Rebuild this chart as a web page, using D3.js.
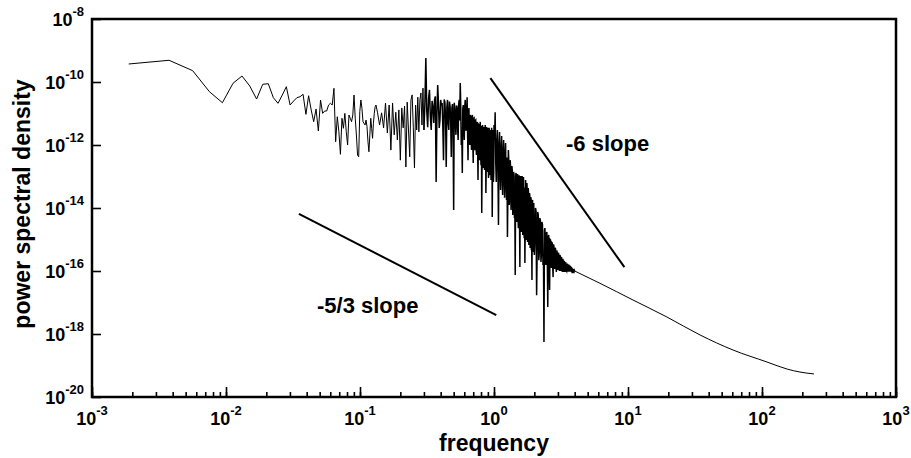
<!DOCTYPE html>
<html>
<head>
<meta charset="utf-8">
<script src="https://cdn.jsdelivr.net/npm/d3@7"></script>
<style>
body { margin: 0; background: #fff; }
text { font-family: "Liberation Sans", Arial, Helvetica, sans-serif; font-weight: bold; fill: #000; }
</style>
</head>
<body>
<div id="chart"></div>
<script>
// spectrum, low frequency part (one point per frequency bin)
var freqLow = [0.00188,0.00376,0.00564,0.00752,0.0094,0.01128,0.01316,0.01504,0.01692,0.0188,
  0.02068,0.02256,0.02444,0.02632,0.0282,0.03008,0.03196,0.03384,0.03572,0.0376,
  0.03948,0.04136,0.04324,0.04512,0.047,0.04888,0.05076,0.05264,0.05452,0.0564,
  0.05828,0.06016,0.06204,0.06392,0.0658,0.06768,0.06956,0.07144,0.07332,0.0752,
  0.07708,0.07896,0.08084,0.08272,0.0846,0.08648,0.08836,0.09024,0.09212,0.094,
  0.09588,0.09776,0.09964,0.10152,0.1034,0.10528,0.10716,0.10904,0.11092,0.1128,
  0.11468,0.11656,0.11844,0.12032,0.1222,0.12408,0.12596,0.12784,0.12972,0.1316]
var psdLow = [3.73e-10,4.89e-10,2.29e-10,4.92e-11,2.2e-11,9.1e-11,1.55e-10,7.46e-11,2.88e-11,8.45e-11,
  8.83e-11,3.18e-11,2.11e-11,3.87e-11,7.1e-11,1.86e-11,2.49e-11,3.18e-11,3.41e-11,4.07e-11,
  9.4e-12,3.67e-11,1.29e-11,5.5e-12,1.39e-11,2.78e-12,2.68e-11,1.01e-11,1.2e-11,1.2e-11,
  1.86e-11,2.11e-11,1.86e-11,6.3e-11,1.27e-12,7.9e-12,2.64e-12,5.07e-13,7.05e-12,3.39e-12,
  1.01e-11,2.64e-12,1e-12,8.95e-12,7.05e-12,5.5e-12,8.95e-12,3.87e-11,7.05e-12,2.08e-12,
  4.8e-13,4.25e-13,1.14e-11,2.68e-11,1.46e-11,5.5e-12,4.89e-12,4.32e-12,6.2e-12,3.81e-12,
  1.27e-12,6.1e-13,2.08e-12,7.05e-12,3.39e-12,1.63e-12,4.89e-12,1.01e-11,1.64e-11,1.86e-11]

// noisy band 0.135 - 4 (peaks and troughs)
var freqBand = [0.135,0.14,0.145,0.15,0.155,0.16,0.165,0.17,0.175,0.18,
  0.185,0.19,0.195,0.2,0.205,0.21,0.215,0.22,0.225,0.23,
  0.235,0.24,0.245,0.25,0.255,0.26,0.265,0.27,0.275,0.28,
  0.285,0.29,0.295,0.3,
  0.31,0.32,0.33,0.34,0.35,0.36,0.37,0.38,0.39,0.40,
  0.41,0.42,0.43,0.44,0.45,0.46,0.47,0.48,0.49,0.50,
  0.51,0.52,0.53,0.54,0.55,0.56,0.57,0.58,0.59,0.60,
  0.61,0.62,0.63,0.64,0.65,0.66,0.67,0.68,0.69,0.70,
  0.71,0.72,0.73,0.74,0.75,0.76,0.77,0.78,0.79,0.80,
  0.81,0.82,0.83,0.84,0.85,0.86,0.87,0.88,0.89,0.90,
  0.91,0.92,0.93,0.94,0.95,0.96,0.97,0.98,0.99,1.00,
  1.02,1.04,1.06,1.08,1.10,1.12,1.14,1.16,1.18,1.20,
  1.22,1.24,1.26,1.28,1.30,1.32,1.34,1.36,1.38,1.40,
  1.42,1.44,1.46,1.48,1.50,1.52,1.54,1.56,1.58,1.60,
  1.62,1.64,1.66,1.68,1.70,1.72,1.74,1.76,1.78,1.80,
  1.82,1.84,1.86,1.88,1.90,1.92,1.94,1.96,1.98,2.00,
  2.04,2.08,2.12,2.16,2.20,2.24,2.28,2.32,2.36,2.40,
  2.44,2.48,2.52,2.56,2.60,2.64,2.68,2.72,2.76,2.80,
  2.84,2.88,2.92,2.96,3.00,3.04,3.08,3.12,3.16,3.20,
  3.24,3.28,3.32,3.36,3.40,3.44,3.48,3.52,3.56,3.60,
  3.64,3.68,3.72,3.76,3.80,3.84,3.88,3.92,3.96,4.00]
var psdBand = [1.1e-11,4.3e-12,1.05e-11,3.5e-12,2.15e-11,2.4e-12,1.86e-11,6.9e-13,2.15e-11,2.1e-12,
  1.1e-11,1.44e-12,1.3e-11,3.3e-13,1.5e-11,3.5e-12,1.73e-11,2.0e-13,2.3e-11,3.0e-12,
  4.2e-13,2.7e-11,3.9e-11,3.5e-12,1.86e-13,1.86e-11,3.0e-12,3.3e-11,2.6e-12,2.7e-11,
  4.5e-11,4.3e-12,6.4e-11,3.0e-12,
  5.8e-10,3.7e-12,5.6e-11,3.0e-12,1.6e-11,2.7e-11,6.7e-14,8.0e-11,3.5e-12,2.7e-11,
  2.15e-11,3.3e-13,2.3e-11,2.0e-13,2.7e-11,3.0e-12,1.73e-11,4.2e-13,2.0e-11,8.6e-15,
  1.5e-11,2.1e-12,1.6e-11,1.44e-12,2.7e-11,9.3e-11,1e-12,1.3e-13,1.86e-11,1.44e-12,
  2.7e-11,3.0e-12,3.3e-11,3.3e-13,1.5e-11,1e-12,7.7e-12,6.9e-13,9e-12,2.7e-13,
  7.2e-12,6.9e-13,6.2e-12,4.8e-13,5.4e-12,7.7e-14,4.3e-12,3.3e-13,5.4e-12,2.3e-13,
  6.9e-15,4.3e-12,1.86e-13,3.7e-12,1.6e-13,4.3e-12,3.0e-14,3.7e-12,1.4e-13,3.5e-12,
  9e-14,3.5e-12,1.1e-13,3.0e-12,7.7e-14,3.5e-12,5.2e-15,3.0e-12,6.7e-14,4.3e-12,
  1.1e-11,6.7e-14,3.0e-12,2.9e-15,2.6e-12,3.7e-14,1.93e-12,2.6e-14,1.44e-12,2.1e-14,
  1.16e-12,1.8e-14,1.2e-15,6.9e-13,1.25e-14,3.3e-13,8.6e-15,2.15e-13,6.0e-15,1.4e-13,
  4.8e-15,7.5e-17,1.3e-13,3.6e-15,1.2e-13,2.3e-15,1.1e-13,1.34e-16,1.04e-13,1.73e-15,
  1.04e-13,1.4e-15,9.6e-14,1.1e-15,1.8e-16,7.7e-14,9.6e-16,6.2e-14,8.3e-16,4.3e-14,
  6.7e-16,3.0e-14,5.4e-16,2.2e-14,4.6e-16,5.2e-17,1.8e-14,4.0e-16,1.44e-14,3.2e-16,
  1e-14,1.7e-17,7.5e-15,2.2e-16,4.8e-15,1.93e-16,3.6e-15,1.55e-16,5.6e-19,2.3e-15,
  1.55e-16,1.73e-15,7.2e-18,1.4e-15,2.5e-17,9.6e-16,1.25e-16,7.7e-16,6.4e-17,6.2e-16,
  1.16e-16,5.0e-16,9.3e-17,4.0e-16,1.08e-16,3.5e-16,1.0e-16,3.0e-16,1.0e-16,2.6e-16,
  9.3e-17,2.2e-16,9.3e-17,1.93e-16,9.3e-17,1.8e-16,1.0e-16,1.55e-16,9.6e-17,1.44e-16,
  9.6e-17,1.34e-16,9.6e-17,1.25e-16,9.6e-17,1.16e-16,9.6e-17,1.08e-16,9.6e-17,1.0e-16]

// in-between bins of the dense band (body of the noise)
var freqFill = [0.305,0.315,0.325,0.335,0.345,0.355,0.365,0.375,0.385,0.395,
  0.405,0.415,0.425,0.435,0.445,0.455,0.465,0.475,0.485,0.495,
  0.505,0.515,0.525,0.535,0.545,0.555,0.565,0.575,0.585,0.595,
  0.605,0.615,0.625,0.635,0.645,0.655,0.665,0.675,0.685,0.695,
  0.705,0.715,0.725,0.735,0.745,0.755,0.765,0.775,0.785,0.795,
  0.805,0.815,0.825,0.835,0.845,0.855,0.865,0.875,0.885,0.895,
  0.905,0.915,0.925,0.935,0.945,0.955,0.965,0.975,0.985,0.995,
  1.01,1.03,1.05,1.07,1.09,1.11,1.13,1.15,1.17,1.19,
  1.21,1.23,1.25,1.27,1.29,1.31,1.33,1.35,1.37,1.39,
  1.41,1.43,1.45,1.47,1.49,1.51,1.53,1.55,1.57,1.59,
  1.61,1.63,1.65,1.67,1.69,1.71,1.73,1.75,1.77,1.79,
  1.81,1.83,1.85,1.87,1.89,1.91,1.93,1.95,1.97,1.99,
  2.02,2.06,2.10,2.14,2.18,2.22,2.26,2.30,2.34,2.38,
  2.42,2.46,2.50,2.54,2.58,2.62,2.66,2.70,2.74,2.78,
  2.82,2.86,2.90,2.94,2.98,3.02,3.06,3.10,3.14,3.18,
  3.22,3.26,3.30,3.34,3.38,3.42,3.46,3.50,3.54,3.58,
  3.62,3.66,3.70,3.74,3.78,3.82,3.86,3.90,3.94,3.98]
var psdFill = [2.0e-11,1.2e-11,3.0e-11,8e-12,2.5e-11,5e-12,3.5e-11,9e-12,2.2e-11,6e-12,
  1.8e-11,4e-12,2.8e-11,7e-12,1.6e-11,5e-12,2.4e-11,6e-12,1.5e-11,4e-12,
  2.2e-11,5e-12,1.8e-11,3.5e-12,2.0e-11,6e-12,1.5e-11,3e-12,1.4e-11,4e-12,
  1.6e-11,3e-12,1.2e-11,2.5e-12,1.0e-11,2e-12,9e-12,1.5e-12,8e-12,1.2e-12,
  7e-12,1e-12,6e-12,8e-13,5e-12,7e-13,4.5e-12,6e-13,4e-12,5e-13,
  4e-12,4e-13,3.5e-12,3.5e-13,3.2e-12,3e-13,3e-12,2.5e-13,2.8e-12,2.2e-13,
  2.6e-12,2e-13,2.5e-12,1.8e-13,2.4e-12,1.6e-13,2.2e-12,1.5e-13,2e-12,1.3e-13,
  1.5e-12,3e-13,1.2e-12,2e-13,1e-12,1.5e-13,8e-13,1e-13,6e-13,8e-14,
  5e-13,6e-14,4e-13,4e-14,3e-13,3e-14,2e-13,2e-14,1.5e-13,1.5e-14,
  1.2e-13,1.2e-14,1e-13,8e-15,9e-14,6e-15,8e-14,5e-15,7e-14,4e-15,
  6e-14,3.5e-15,5e-14,3e-15,4.5e-14,2.5e-15,4e-14,2e-15,3.5e-14,1.7e-15,
  3e-14,1.5e-15,2.5e-14,1.2e-15,2e-14,1e-15,1.6e-14,9e-16,1.3e-14,8e-16,
  1e-15,8e-15,5e-16,6e-15,4e-16,4e-15,3.5e-16,3e-15,3e-16,2e-15,
  2.6e-16,1.6e-15,2.3e-16,1.2e-15,2e-16,1e-15,1.8e-16,8e-16,1.6e-16,7e-16,
  1.5e-16,5.5e-16,1.4e-16,4.5e-16,1.3e-16,3.8e-16,1.25e-16,3.2e-16,1.2e-16,2.8e-16,
  1.15e-16,2.4e-16,1.1e-16,2.1e-16,1.08e-16,1.9e-16,1.05e-16,1.7e-16,1.03e-16,1.5e-16,
  1.02e-16,1.4e-16,1.01e-16,1.3e-16,1e-16,1.2e-16,1e-16,1.1e-16,1e-16,1.05e-16]

// smooth high frequency tail
var freqTail = [4.0, 6.18, 10.9, 19.5, 34.5, 60.8, 109, 154, 192, 244]
var psdTail = [1.0e-16, 4.07e-17, 1.2e-17, 3.47e-18, 9.3e-19, 3.1e-19, 1.29e-19, 7.7e-20, 6.2e-20, 5.4e-20]

// reference slopes
var sixSlopeF = [0.94, 9.4]
var sixSlopeP = [1.32e-10, 1.32e-16]
var fiveThirdF = [0.035, 1.04]
var fiveThirdP = [6.5e-15, 4.0e-18]

var xMajor = [1e-3, 1e-2, 1e-1, 1e0, 1e1, 1e2, 1e3]
var yMajor = [1e-20, 1e-18, 1e-16, 1e-14, 1e-12, 1e-10, 1e-8]

var width = 911,
    height = 458
var margin = {left: 92, top: 19, right: 15, bottom: 61}
var x0 = margin.left, x1 = width - margin.right
var y0 = height - margin.bottom, y1 = margin.top

var svg = d3.select("#chart").append("svg")
    .attr("width", width)
    .attr("height", height)

var x = d3.scaleLog().domain([1e-3, 1e3]).range([x0, x1])
var y = d3.scaleLog().domain([1e-20, 1e-8]).range([y0, y1])

function pairs(fs, ps) { return fs.map(function(f, i) { return [f, ps[i]] }) }

// all bins sorted by frequency
var noisy = pairs(freqLow, psdLow)
    .concat(pairs(freqBand, psdBand), pairs(freqFill, psdFill))
noisy = d3.sort(noisy, function(d) { return d[0] })
var sparse = noisy.filter(function(d) { return d[0] <= 0.3 })   // thin, readable zigzag
var dense = noisy.filter(function(d) { return d[0] >= 0.3 })    // packed band, drawn heavier
var tail = pairs(freqTail, psdTail)

var line = d3.line()
    .x(function(d) { return x(d[0]) })
    .y(function(d) { return y(d[1]) })
var smooth = d3.line()
    .x(function(d) { return x(d[0]) })
    .y(function(d) { return y(d[1]) })
    .curve(d3.curveMonotoneX)

svg.append("path")
    .attr("d", line(sparse))
    .attr("fill", "none")
    .attr("stroke", "#000")
    .attr("stroke-width", 1)
svg.append("path")
    .attr("d", line(dense))
    .attr("fill", "none")
    .attr("stroke", "#000")
    .attr("stroke-width", 1.5)
svg.append("path")
    .attr("d", smooth(tail))
    .attr("fill", "none")
    .attr("stroke", "#000")
    .attr("stroke-width", 1)

// slope guides
function slopeLine(fs, ps) {
  svg.append("path")
      .attr("d", line(pairs(fs, ps)))
      .attr("fill", "none")
      .attr("stroke", "#000")
      .attr("stroke-width", 2)
}
slopeLine(sixSlopeF, sixSlopeP)
slopeLine(fiveThirdF, fiveThirdP)

svg.append("text").attr("x", 566).attr("y", 151)
    .style("font-size", "22px").text("-6 slope")
svg.append("text").attr("x", 317).attr("y", 313)
    .style("font-size", "22px").text("-5/3 slope")

// axes (ticks pointing inward)
svg.append("g").attr("transform", "translate(0," + y0 + ")")
    .call(d3.axisBottom(x).tickValues(x.ticks()).tickSizeInner(-5).tickSizeOuter(0).tickFormat(""))
svg.append("g").attr("transform", "translate(0," + y0 + ")")
    .call(d3.axisBottom(x).tickValues(xMajor).tickSizeInner(-10).tickSizeOuter(0).tickFormat(""))
svg.append("g").attr("transform", "translate(" + x0 + ",0)")
    .call(d3.axisLeft(y).tickValues(yMajor).tickSizeInner(-9).tickSizeOuter(0).tickFormat(""))

svg.selectAll(".domain").remove()
svg.selectAll(".tick line").attr("stroke", "#000").attr("stroke-width", 1.6)

function expo(d) { return String(Math.round(Math.log10(d))) }

svg.selectAll(".xlab").data(xMajor).enter().append("text")
    .attr("class", "xlab")
    .attr("x", function(d) { return x(d) })
    .attr("y", 425)
    .attr("text-anchor", "middle")
    .style("font-size", "18px")
    .each(function(d) {
      var t = d3.select(this)
      t.append("tspan").text("10")
      t.append("tspan").attr("dy", -10).style("font-size", "13px").text(expo(d))
    })

svg.selectAll(".ylab").data(yMajor).enter().append("text")
    .attr("class", "ylab")
    .attr("x", x0 - 8)
    .attr("y", function(d) { return y(d) + 7 })
    .attr("text-anchor", "end")
    .style("font-size", "18px")
    .each(function(d) {
      var t = d3.select(this)
      t.append("tspan").text("10")
      t.append("tspan").attr("dy", -10).style("font-size", "13px").text(expo(d))
    })

// frame
svg.append("rect")
    .attr("x", x0).attr("y", y1)
    .attr("width", x1 - x0).attr("height", y0 - y1)
    .attr("fill", "none")
    .attr("stroke", "#000")
    .attr("stroke-width", 2.5)

svg.append("text")
    .attr("x", (x0 + x1) / 2).attr("y", 451)
    .attr("text-anchor", "middle")
    .style("font-size", "23px")
    .text("frequency")

svg.append("text")
    .attr("transform", "translate(30,204) rotate(-90)")
    .attr("text-anchor", "middle")
    .style("font-size", "23px")
    .text("power spectral density")
</script>
</body>
</html>
